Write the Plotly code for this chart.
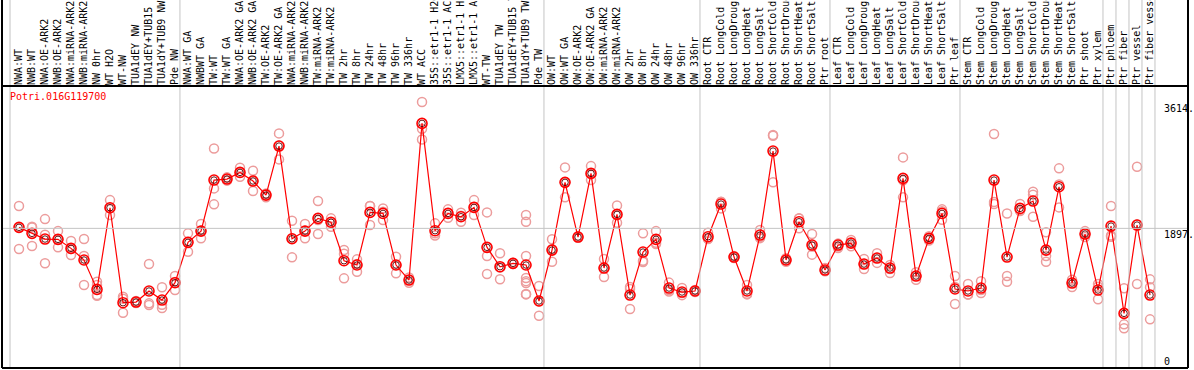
import plotly.graph_objects as go

categories = [
    "NWA:WT", "NWB:WT", "NWA:OE-ARK2", "NWB:OE-ARK2", "NWA:miRNA-ARK2", "NWB:miRNA-ARK2",
    "NW 0hr", "WT H2O", "WT-NW", "TUA1dEY NW", "TUA1dEY+TUB15 NW", "TUA1dY+TUB9 NW", "Pde NW",
    "NWA:WT GA", "NWBWT GA", "TW:WT", "TW:WT GA", "NWA:OE-ARK2 GA", "NWB:OE-ARK2 GA",
    "TW:OE-ARK2", "TW:OE-ARK2 GA", "NWA:miRNA-ARK2", "NWB:miRNA-ARK2", "TW:miRNA-ARK2",
    "TW:miRNA-ARK2 ", "TW 2hr", "TW 8hr", "TW 24hr", "TW 48hr", "TW 96hr", "TW 336hr", "WT ACC",
    "35S::etr1-1 H2O", "35S::etr1-1 ACC", "LMX5::etr1-1 H2O", "LMX5::etr1-1 ACC", "WT-TW",
    "TUA1dEY TW", "TUA1dEY+TUB15 TW", "TUA1dY+TUB9 TW", "Pde TW",
    "OW:WT", "OW:WT GA", "OW:OE-ARK2", "OW:OE-ARK2 GA", "OW:miRNA-ARK2", "OW:miRNA-ARK2 ",
    "OW 2hr", "OW 8hr", "OW 24hr", "OW 48hr", "OW 96hr", "OW 336hr",
    "Root CTR", "Root LongCold", "Root LongDrought", "Root LongHeat", "Root LongSalt",
    "Root ShortCold", "Root ShortDrought", "Root ShortHeat", "Root ShortSalt", "Ptr root",
    "Leaf CTR", "Leaf LongCold", "Leaf LongDrought", "Leaf LongHeat", "Leaf LongSalt",
    "Leaf ShortCold", "Leaf ShortDrought", "Leaf ShortHeat", "Leaf ShortSalt", "Ptr leaf",
    "Stem CTR", "Stem LongCold", "Stem LongDrought", "Stem LongHeat", "Stem LongSalt",
    "Stem ShortCold", "Stem ShortDrought", "Stem ShortHeat", "Stem ShortSalt", "Ptr shoot",
    "Ptr xylem", "Ptr phloem", "Ptr fiber", "Ptr vessel", "Ptr fiber vessel",
]

mean_values = [
    1911, 1829, 1752, 1748, 1625, 1467, 1068, 2177, 887, 896, 1046, 923, 1159,
    1707, 1860, 2553, 2567, 2657, 2540, 2349, 3015, 1756, 1860, 2033, 1980, 1457, 1399,
    2114, 2100, 1399, 1195, 3323, 1865, 2100, 2055, 2182, 1639, 1376, 1422, 1399, 910,
    1602, 2522, 1779, 2644, 1358, 2087, 991, 1575, 1748, 1086, 1032, 1046,
    1783, 2227, 1507, 1046, 1806, 2947, 1467, 1987, 1670, 1331,
    1670, 1697, 1412, 1494, 1358, 2576, 1249, 1761, 2100, 1073,
    1046, 1086, 2553, 1507, 2168, 2268, 1602, 2462, 1154, 1820, 1059,
    1928, 742, 1942, 991,
]

replicate_values = [
    [2200, 1910, 1616], [1919, 1910, 1657], [2023, 1810, 1422], [1860, 1745, 1639],
    [1725, 1615, 1535], [1752, 1521, 1127], [1172, 1127, 991, 980], [2281, 2172, 2078],
    [968, 942, 751], [910, 896, 882], [1412, 878, 855], [1096, 860, 815], [1249, 1168, 1059],
    [1829, 1712, 1580], [1956, 1863, 1761], [2983, 2440, 2223], [2590, 2567, 2545],
    [2720, 2653, 2598], [2680, 2536, 2404], [2372, 2357, 2318], [3187, 3024, 2834],
    [2000, 1760, 1503], [1956, 1863, 1761], [2268, 2011, 1820], [2033, 1973, 1919],
    [1602, 1551, 1218], [1476, 1413, 1308], [2200, 2200, 1942], [2168, 2122, 2010],
    [1512, 1399, 1286], [1230, 1195, 1159], [3614, 3250, 3105], [1965, 1829, 1800],
    [2155, 2104, 2041], [2109, 2069, 1987], [2281, 2187, 2078], [2114, 1521, 1277],
    [1558, 1365, 1205], [1430, 1422, 1414], [2078, 1987, 1521, 1222, 1180, 1154, 1005, 1000],
    [1114, 906, 710],
    [1748, 1614, 1444], [2725, 2523, 2318], [1790, 1779, 1768], [2743, 2636, 2553],
    [1480, 1358, 1236], [2209, 2079, 1973], [1100, 1072, 801], [1829, 1456, 1440],
    [1860, 1700, 1684], [1160, 1060, 1038], [1086, 1020, 990], [1060, 1046, 1032],
    [1837, 1760, 1752], [2258, 2255, 2168], [1520, 1507, 1494], [1127, 1010, 1000],
    [1874, 1780, 1764], [3154, 3165, 2522], [1490, 1467, 1444], [2033, 2031, 1897],
    [1820, 1650, 1540], [1360, 1320, 1313],
    [1690, 1650, 1630], [1738, 1700, 1653], [1480, 1412, 1344], [1560, 1494, 1428],
    [1400, 1344, 1290], [2861, 2549, 2318], [1300, 1249, 1200], [1790, 1761, 1732],
    [2155, 2130, 2015], [1250, 1100, 870],
    [1140, 1000, 998], [1180, 1060, 1018], [3178, 2254, 2227], [2100, 1250, 1171],
    [2227, 2145, 2132], [2394, 2355, 2055], [1843, 1520, 1443], [2712, 2492, 2182],
    [1200, 1154, 1100], [1860, 1820, 1780], [1141, 1103, 933],
    [2200, 1801, 1783], [1082, 593, 539], [2733, 1950, 1141], [1204, 1096, 661],
]

group_sizes = [13, 28, 12, 10, 10, 11, 1, 1, 1, 1]
y_tick_values = [3614, 1897, 0]
y_tick_texts = ["3614.", "1897.", "0"]
gene_name = "Potri.016G119700"

RED = "#ff0000"
DARK = "#500000"
PINK = "#ec9c9c"
GRAY = "#c4c4c4"
MONO = "DejaVu Sans Mono"

xs = list(range(len(categories)))
rep_x, rep_y = [], []
for i, reps in enumerate(replicate_values):
    for v in reps:
        rep_x.append(i)
        rep_y.append(v)

fig = go.Figure()
fig.add_trace(go.Scatter(
    x=rep_x, y=rep_y, mode="markers",
    marker=dict(symbol="circle-open", size=9, color=PINK, line=dict(width=1.5, color=PINK)),
    hoverinfo="skip", showlegend=False, cliponaxis=False,
))
fig.add_trace(go.Scatter(
    x=xs, y=mean_values, mode="lines+markers",
    line=dict(color=RED, width=1.2),
    marker=dict(symbol="circle-open", size=10, color=RED, line=dict(width=1.6, color=RED)),
    showlegend=False, cliponaxis=False,
))
fig.add_trace(go.Scatter(
    x=xs, y=mean_values, mode="markers",
    marker=dict(symbol="circle-open", size=6.5, color=DARK, line=dict(width=0.9, color=DARK)),
    hoverinfo="skip", showlegend=False, cliponaxis=False,
))

TOP = 1 + 86 / 282
shapes = []
pos = -0.69
shapes.append(dict(type="line", xref="x", yref="paper", x0=pos, x1=pos, y0=0, y1=TOP,
                   line=dict(color=GRAY, width=1)))
acc = 0
for g in group_sizes:
    acc += g
    p = acc - 1 + 0.38
    shapes.append(dict(type="line", xref="x", yref="paper", x0=p, x1=p, y0=0, y1=TOP,
                       line=dict(color=GRAY, width=1)))
shapes.append(dict(type="line", xref="paper", yref="y", x0=0, x1=1, y0=y_tick_values[1],
                   y1=y_tick_values[1], line=dict(color=GRAY, width=1)))
shapes.append(dict(type="line", xref="paper", yref="paper", x0=0, x1=1, y0=1, y1=1,
                   line=dict(color="black", width=2)))
shapes.append(dict(type="line", xref="paper", yref="paper", x0=0, x1=1, y0=0, y1=0,
                   line=dict(color="black", width=2)))
shapes.append(dict(type="line", xref="paper", yref="paper", x0=0, x1=0, y0=0, y1=TOP,
                   line=dict(color="black", width=2)))
shapes.append(dict(type="line", xref="paper", yref="paper", x0=1, x1=1, y0=0, y1=TOP,
                   line=dict(color="black", width=2)))

annotations = [dict(text=gene_name, xref="paper", yref="paper", x=0.005, y=0.962,
                    xanchor="left", yanchor="middle", showarrow=False,
                    font=dict(family=MONO, size=10, color=RED))]
for v, t in zip(y_tick_values, y_tick_texts):
    annotations.append(dict(text=t, xref="x", yref="y", x=88, y=v, xanchor="left",
                            yanchor="bottom" if v == 0 else "top", showarrow=False,
                            font=dict(family=MONO, size=10, color="black"),
                            borderpad=0))

fig.update_layout(
    width=1194, height=370,
    margin=dict(l=2, r=6, t=86, b=2, pad=0, autoexpand=False),
    paper_bgcolor="white", plot_bgcolor="white",
    shapes=shapes, annotations=annotations,
    xaxis=dict(range=[-1.308, 89.92], side="top", tickmode="array", tickvals=xs,
               ticktext=categories, tickangle=-90, showgrid=False, zeroline=False,
               ticks="", ticklabelstandoff=0, automargin=False,
               tickfont=dict(family=MONO, size=10, color="black")),
    yaxis=dict(range=[0, 3831], showgrid=False, zeroline=False, showticklabels=False,
               ticks="", automargin=False),
)

fig.write_html(
    "out.html",
    config={"displayModeBar": False},
    post_script="document.body.style.margin='0';document.body.style.overflow='hidden';",
)
